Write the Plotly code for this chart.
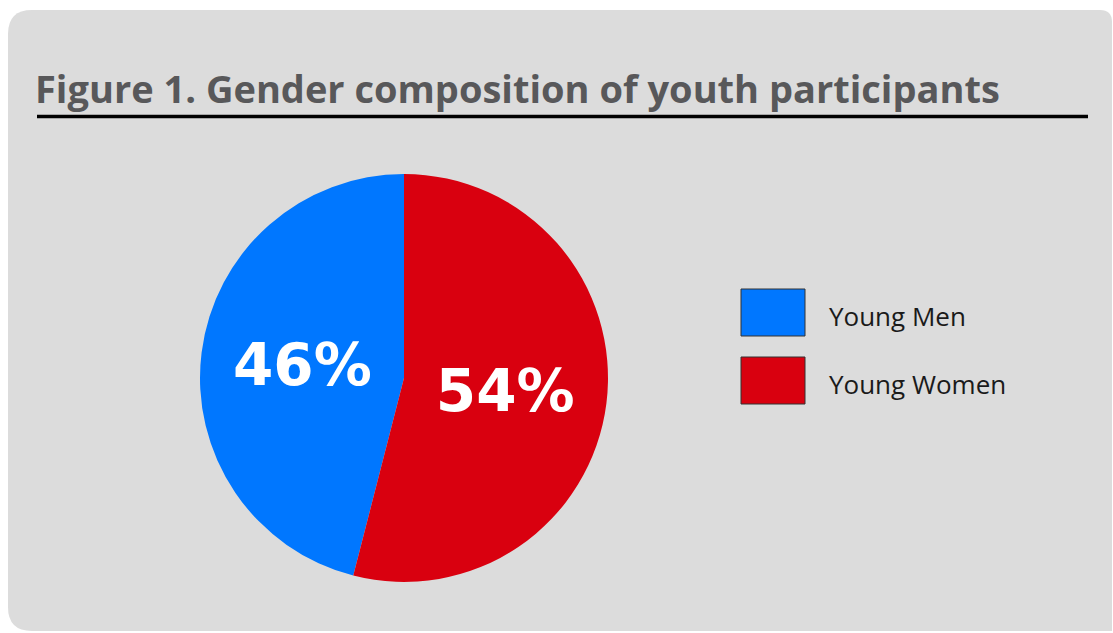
import plotly.graph_objects as go

# Data
labels = ["Young Men", "Young Women"]
values = [46, 54]
colors = ["#0077ff", "#d9000f"]
title_text = "Figure 1. Gender composition of youth participants"

W, H = 1113, 633

def px_x(x):
    return x / W

def px_y(y):
    return 1 - y / H

# first slice (Young Men) ends at 12 o'clock, drawn on the left side
start_rot = -360.0 * values[0] / sum(values)

fig = go.Figure()

fig.add_trace(go.Pie(
    labels=labels,
    values=values,
    marker=dict(colors=colors, line=dict(width=0)),
    sort=False,
    direction="clockwise",
    rotation=start_rot,
    texttemplate="%{value}%",
    textposition="inside",
    insidetextorientation="horizontal",
    textfont=dict(family="DejaVu Sans", size=58, color="white", weight="bold"),
    showlegend=False,
    hoverinfo="label+percent",
    domain=dict(x=[px_x(200), px_x(608)], y=[px_y(582), px_y(174)]),
))

shapes = []
# Rounded gray panel
x0, y0, x1, y1 = 8, 10, 1112, 631
r = 24
path = (f"M {x0+r},{y0} L {x1-12},{y0} Q {x1},{y0} {x1},{y0+12} "
        f"L {x1},{y1} L {x0+r},{y1} Q {x0},{y1} {x0},{y1-r} "
        f"L {x0},{y0+r} Q {x0},{y0} {x0+r},{y0} Z")

def conv_path(p):
    out = []
    for tok in p.split(" "):
        if "," in tok:
            a, b = tok.split(",")
            out.append(f"{float(a)/W:.5f},{1-float(b)/H:.5f}")
        else:
            out.append(tok)
    return " ".join(out)

shapes.append(dict(type="path", xref="paper", yref="paper", path=conv_path(path),
                   fillcolor="#dcdcdc", line=dict(width=0), layer="below"))
# Title underline
shapes.append(dict(type="line", xref="paper", yref="paper",
                   x0=px_x(37), x1=px_x(1088), y0=px_y(116.5), y1=px_y(116.5),
                   line=dict(color="black", width=3.5)))

annotations = [dict(
    text=f"<b>{title_text}</b>", xref="paper", yref="paper",
    x=px_x(33), y=px_y(116), xanchor="left", yanchor="bottom",
    showarrow=False, font=dict(family="Open Sans", size=38, color="#58585a"),
)]

# Legend swatches + labels
sw_tops = [289, 357]
for i, (lab, col) in enumerate(zip(labels, colors)):
    t = sw_tops[i]
    shapes.append(dict(type="rect", xref="paper", yref="paper",
                       x0=px_x(741), x1=px_x(805), y0=px_y(t + 47), y1=px_y(t),
                       fillcolor=col, line=dict(color="#333333", width=1)))
    annotations.append(dict(
        text=lab, xref="paper", yref="paper",
        x=px_x(827), y=px_y(t + 27), xanchor="left", yanchor="middle",
        showarrow=False, font=dict(family="Open Sans", size=26, color="#1a1a1a"),
    ))

fig.update_layout(
    width=W, height=H,
    margin=dict(l=0, r=0, t=0, b=0),
    paper_bgcolor="white",
    plot_bgcolor="white",
    shapes=shapes,
    annotations=annotations,
)

fig.write_html("out.html", config={"displayModeBar": False},
               post_script="document.body.style.margin='0';")
